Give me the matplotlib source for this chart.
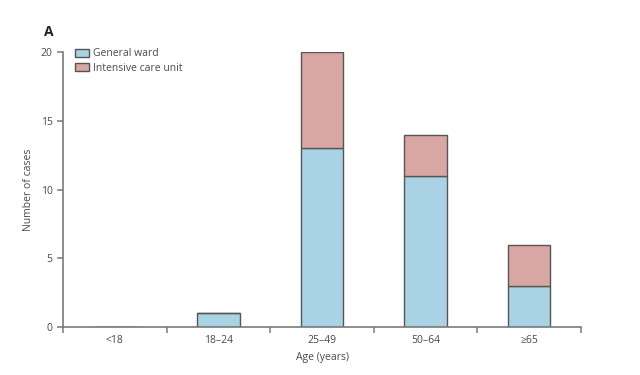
"""
Cases by age group, stacked general ward / ICU bars (panel A).
"""
import matplotlib
matplotlib.use("Agg")
import matplotlib.pyplot as plt
from matplotlib.patches import Patch

AGE_GROUPS   = ["<18", "18–24", "25–49", "50–64", "≥65"]
GENERAL_WARD = [0, 1, 13, 11, 3]
ICU          = [0, 0, 7, 3, 3]

WARD_COLOR = "#a9d3e4"
ICU_COLOR  = "#d8a6a3"
EDGE       = "#555555"
AXIS_GREY  = "#7a7a7a"
TEXT_GREY  = "#4a4a4a"

plt.rcParams["font.family"] = ["Open Sans", "DejaVu Sans"]

fig = plt.figure(figsize=(6.4, 3.75), dpi=100)
ax = fig.add_axes([63 / 640, 48 / 375, 518 / 640, 275 / 375])

x = list(range(len(AGE_GROUPS)))
ax.bar(x, GENERAL_WARD, width=0.41, color=WARD_COLOR, edgecolor=EDGE, linewidth=1.0)
ax.bar(x, ICU, width=0.41, bottom=GENERAL_WARD, color=ICU_COLOR,
       edgecolor=EDGE, linewidth=1.0)

ax.set_xlim(-0.5, len(AGE_GROUPS) - 0.5)
ax.set_ylim(0, 20)
ax.set_yticks([0, 5, 10, 15, 20])
ax.set_xticks([i - 0.5 for i in range(len(AGE_GROUPS) + 1)])
ax.set_xticklabels([])
ax.set_xticks(x, minor=True)
ax.set_xticklabels(AGE_GROUPS, minor=True)
ax.tick_params(axis="x", which="minor", length=0, pad=6)

for s in ("top", "right"):
    ax.spines[s].set_visible(False)
for s in ("left", "bottom"):
    ax.spines[s].set_color(AXIS_GREY)
    ax.spines[s].set_linewidth(1.2)
ax.tick_params(which="major", color=AXIS_GREY, width=1.1, length=4)
ax.tick_params(which="both", labelsize=7.5, labelcolor=TEXT_GREY)

ax.set_xlabel("Age (years)", fontsize=7.5, color=TEXT_GREY, labelpad=4)
ax.set_ylabel("Number of cases", fontsize=7.5, color=TEXT_GREY, labelpad=5)

fig.text(44 / 640, 1 - 32 / 375, "A", fontsize=10, fontweight="bold",
         color="#222222", va="center", ha="left")

handles = [Patch(facecolor=WARD_COLOR, edgecolor=EDGE, linewidth=1.0),
           Patch(facecolor=ICU_COLOR, edgecolor=EDGE, linewidth=1.0)]
fig.legend(handles, ["General ward", "Intensive care unit"],
           loc="upper left", bbox_to_anchor=(68 / 640, 1 - 41 / 375),
           frameon=False, fontsize=7.5, labelcolor=TEXT_GREY,
           handlelength=1.3, handleheight=0.8, handletextpad=0.4,
           labelspacing=0.35, borderpad=0.2)

fig.savefig("out.png", dpi=100)
